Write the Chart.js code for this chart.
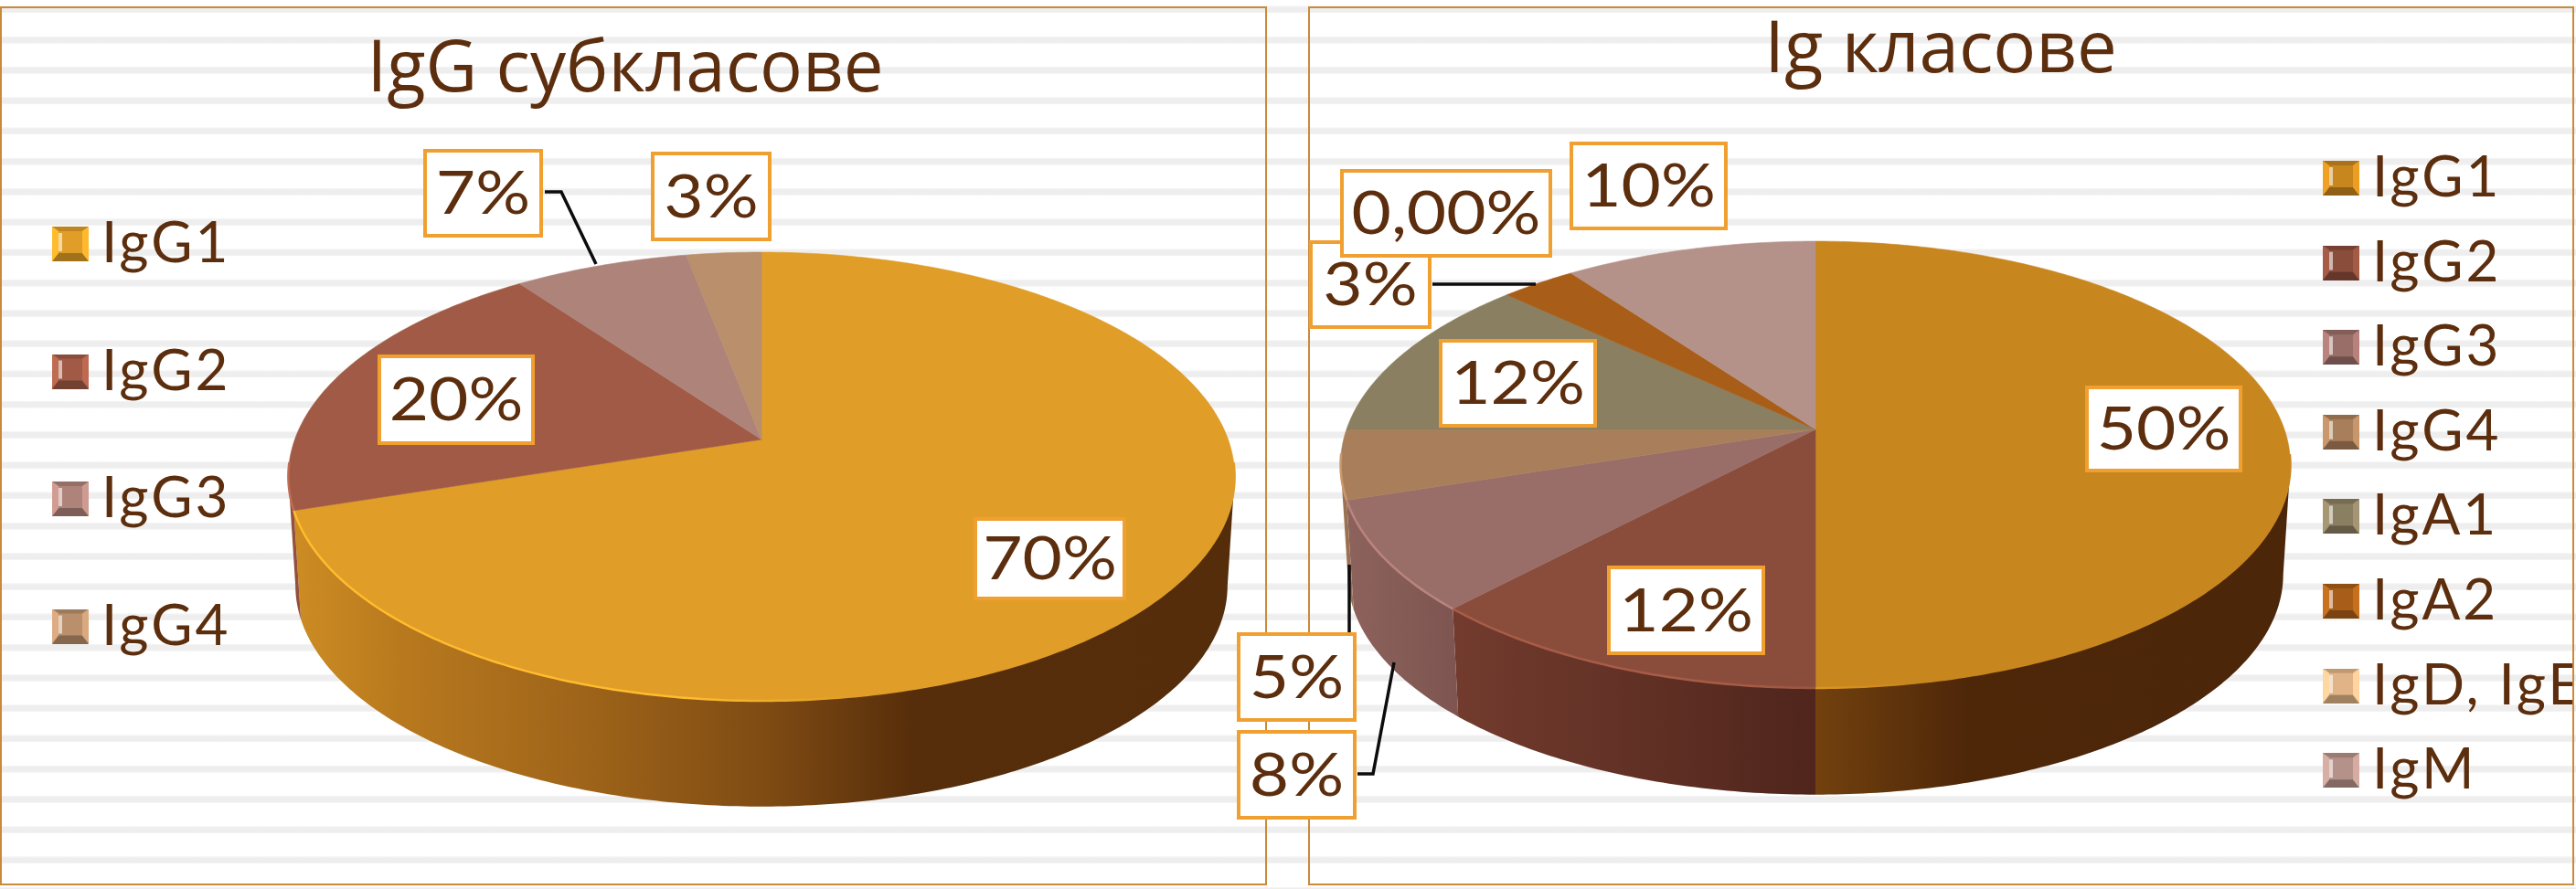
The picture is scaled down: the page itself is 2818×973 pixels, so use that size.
<!DOCTYPE html>
<html lang="bg">
<head>
<meta charset="utf-8">
<title>IgG субкласове / Ig класове</title>
<script src="https://cdn.jsdelivr.net/npm/chart.js@4/dist/chart.umd.min.js"></script>
<style>
  html, body { margin: 0; padding: 0; width: 2818px; height: 973px; overflow: hidden; background: #fff; }
  .stripes { position: absolute; left: 0; top: 0; width: 2818px; height: 973px;
    background: repeating-linear-gradient(180deg, #f8f8f8 6.5px, #eeeeee 8px, #eeeeee 13px, #f8f8f8 14.5px, #ffffff 14.5px, #ffffff 39.75px); }
  .panel { position: absolute; box-sizing: border-box; top: 7px; height: 962px; border: 2px solid #c98a3a; }
  canvas { position: absolute; left: 0; top: 0; }
</style>
</head>
<body>
<div class="stripes"></div>
<div class="panel" style="left:0;width:1386px"></div>
<div class="panel" style="left:1431px;width:1385px"></div>
<canvas id="subclasses" width="2818" height="973"></canvas>
<canvas id="classes" width="2814" height="973"></canvas>

<script>
// data
const subclassTitle = "IgG субкласове";
const subclassLabels = ["IgG1", "IgG2", "IgG3", "IgG4"];
const subclassValues = [70, 20, 7, 3];
const subclassColors = ["#e09d27", "#a05a45", "#ae837a", "#b98f6c"];

const classTitle = "Ig класове";
const classLabels = ["IgG1", "IgG2", "IgG3", "IgG4", "IgA1", "IgA2", "IgD, IgE", "IgM"];
const classValues = [50, 12, 8, 5, 12, 3, 0, 10];
const classColors = ["#c8861e", "#8b4d3b", "#9a6e68", "#a97f5b", "#8b7f61", "#a85e18", "#e0b486", "#b59289"];

const TEXT = "#5c2e0e";
const BOX = "#f0a030";

// hand placed data labels [left, top, right, bottom], one per slice
const subclassBoxes = [[1065, 566, 1232, 657], [413, 388, 585, 487], [463, 163, 594, 260], [712, 166, 844, 264]];
const subclassLeaders = [[[596, 210], [614, 210], [652, 289]]];
const classBoxes = [[2281, 422, 2453, 517], [1758, 619, 1931, 717], [1353, 799, 1484, 897], [1353, 692, 1484, 790],
  [1574, 371, 1747, 468], [1432, 263, 1566, 360], [1466, 185, 1698, 282], [1717, 155, 1890, 252]];
const classLeaders = [[[1567, 311], [1680, 311]], [[1476, 692], [1476, 618]], [[1485, 847], [1502, 847], [1525, 725]]];

function shade(hex, f, warm) {
  const n = parseInt(hex.slice(1), 16);
  const ch = (s, k) => Math.max(0, Math.min(255, Math.round(((n >> s) & 255) * k)));
  // the dark side of the wall turns redder: green and blue drop faster
  const k2 = warm ? Math.pow(f, 1.3) : f;
  return "rgb(" + ch(16, f) + "," + ch(8, k2) + "," + ch(0, k2) + ")";
}

// small bevelled legend swatch
function swatch(color) {
  const c = document.createElement("canvas");
  c.width = 40; c.height = 38;
  const g = c.getContext("2d");
  const band = (pts, fill) => {
    g.fillStyle = fill;
    g.beginPath();
    pts.forEach((p, i) => i ? g.lineTo(p[0], p[1]) : g.moveTo(p[0], p[1]));
    g.closePath();
    g.fill();
  };
  g.fillStyle = color;
  g.fillRect(0, 0, 40, 38);
  band([[0, 0], [40, 0], [33, 5], [7, 5]], shade(color, 0.85));
  band([[0, 38], [40, 38], [33, 29], [7, 29]], shade(color, 0.72));
  band([[0, 0], [7, 5], [7, 29], [0, 38]], shade(color, 1.2));
  band([[40, 0], [33, 5], [33, 29], [40, 38]], shade(color, 1.18));
  g.fillStyle = "rgba(255,255,255,0.6)";
  g.fillRect(7, 7, 4, 20);
  return c;
}

// horizontal shading of the pie wall, left side to right side
const wallStops = [[0, 0.92], [0.12, 0.82], [0.32, 0.7], [0.5, 0.57], [0.66, 0.39], [1, 0.38]];

// draws the chart's arcs as a tilted 3d pie, using the angles the library computed
const pie3d = {
  id: "pie3d",
  beforeDatasetDraw(chart) {
    const view = chart.config.options.view;
    const ctx = chart.ctx;
    const arcs = chart.getDatasetMeta(0).data;
    const project = (a, low) => {
      const u = Math.cos(a), v = Math.sin(a), w = 1 - view.k * v, s = low ? 0.985 : 1;
      return [view.cx + s * view.a * u / w, view.cy + (low ? view.h : 0) + s * view.b * v / w];
    };
    const sample = (from, to) => {
      const n = Math.max(2, Math.ceil((to - from) * 80));
      const out = [];
      for (let i = 0; i <= n; i++) out.push(from + (to - from) * i / n);
      return out;
    };
    const left = view.cx - view.a * 1.014, width = view.a * 2.028;
    // only the front of the wall shows: from one side extreme round to the other
    const frontFrom = Math.asin(view.k), frontTo = Math.PI - frontFrom;

    ctx.save();
    arcs.forEach((arc) => {
      const from = Math.max(arc.startAngle, frontFrom), to = Math.min(arc.endAngle, frontTo);
      if (to - from < 1e-4) return;
      const color = arc.options.backgroundColor;
      const angles = sample(from, to);
      const grad = ctx.createLinearGradient(left, 0, left + width, 0);
      wallStops.forEach(s => grad.addColorStop(s[0], shade(color, s[1], true)));
      ctx.fillStyle = grad;
      ctx.beginPath();
      angles.forEach((a, j) => { const p = project(a, false); j ? ctx.lineTo(p[0], p[1]) : ctx.moveTo(p[0], p[1]); });
      angles.slice().reverse().forEach(a => { const p = project(a, true); ctx.lineTo(p[0], p[1]); });
      ctx.closePath();
      ctx.fill();
    });
    arcs.forEach((arc) => {
      if (arc.endAngle - arc.startAngle < 1e-4) return;
      const color = arc.options.backgroundColor;
      const angles = sample(arc.startAngle, arc.endAngle);
      ctx.fillStyle = color;
      ctx.strokeStyle = color;
      ctx.lineWidth = 0.6;
      ctx.beginPath();
      ctx.moveTo(view.cx, view.cy);
      angles.forEach(a => { const p = project(a, false); ctx.lineTo(p[0], p[1]); });
      ctx.closePath();
      ctx.fill();
      ctx.stroke();
      // light rim on the front left edge
      const rim = ctx.createLinearGradient(left, 0, left + width, 0);
      rim.addColorStop(0.02, shade(color, 1.2));
      rim.addColorStop(0.42, shade(color, 1.2));
      rim.addColorStop(0.6, color);
      ctx.strokeStyle = rim;
      ctx.lineWidth = 2.5;
      ctx.beginPath();
      let on = false;
      angles.forEach(a => {
        if (Math.sin(a) < 0.1) { on = false; return; }
        const p = project(a, false);
        on ? ctx.lineTo(p[0], p[1]) : ctx.moveTo(p[0], p[1]);
        on = true;
      });
      ctx.stroke();
    });
    ctx.restore();
    return false;
  },
  afterDatasetsDraw(chart) {
    const view = chart.config.options.view;
    const ctx = chart.ctx;
    ctx.save();
    ctx.strokeStyle = "#0c0c0c";
    ctx.lineWidth = 3.5;
    view.leaders.forEach(line => {
      ctx.beginPath();
      line.forEach((p, i) => i ? ctx.lineTo(p[0], p[1]) : ctx.moveTo(p[0], p[1]));
      ctx.stroke();
    });
    ctx.font = "65px Lato";
    ctx.textAlign = "center";
    ctx.textBaseline = "middle";
    chart.data.datasets[0].data.forEach((value, i) => {
      const b = view.boxes[i];
      ctx.fillStyle = "#fff";
      ctx.strokeStyle = BOX;
      ctx.lineWidth = 4;
      ctx.fillRect(b[0] + 2, b[1] + 2, b[2] - b[0] - 4, b[3] - b[1] - 4);
      ctx.strokeRect(b[0] + 2, b[1] + 2, b[2] - b[0] - 4, b[3] - b[1] - 4);
      ctx.fillStyle = TEXT;
      // digits of the original face are wider than Lato
      ctx.save();
      ctx.translate((b[0] + b[2]) / 2, (b[1] + b[3]) / 2 + 2);
      ctx.scale(1.15, 1);
      ctx.fillText(value === 0 ? "0,00%" : value + "%", 0, 0);
      ctx.restore();
    });
    ctx.restore();
  },
  // title and legend sit at fixed spots like in the slide
  afterLayout(chart) {
    const view = chart.config.options.view;
    const t = chart.titleBlock, l = chart.legend;
    t.left = view.titleX - 600; t.right = view.titleX + 600;
    t.top = view.titleY; t.bottom = view.titleY + 90;
    const pad = l.options.labels.padding;
    l.left = view.legendX - pad; l.right = l.left + 400;
    l.top = view.legendY - pad - 31; l.bottom = l.top + 900;
    if (!l.spaced) {
      const draw = l.draw.bind(l);
      l.draw = () => {
        chart.ctx.letterSpacing = "3px";
        draw();
        chart.ctx.letterSpacing = "0px";
      };
      l.spaced = true;
    }
  }
};

function makeChart(id, title, labels, values, colors, view, rowGap) {
  return new Chart(document.getElementById(id), {
    type: "pie",
    plugins: [pie3d],
    data: { labels: labels, datasets: [{ data: values, backgroundColor: colors, borderWidth: 0 }] },
    options: {
      responsive: false,
      animation: false,
      devicePixelRatio: 1,
      events: [],
      view: view,
      plugins: {
        tooltip: { enabled: false },
        title: {
          display: true,
          text: title,
          color: TEXT,
          padding: 0,
          font: { family: "'Open Sans'", size: 78, weight: "400", lineHeight: 1.2 }
        },
        legend: {
          position: "left",
          align: "start",
          labels: {
            color: TEXT,
            font: { family: "Lato", size: 62, lineHeight: 1 },
            usePointStyle: true,
            pointStyleWidth: 6,
            padding: rowGap - 62,
            generateLabels(chart) {
              return Chart.overrides.pie.plugins.legend.labels.generateLabels(chart).map((item, i) => {
                item.pointStyle = swatch(colors[i]);
                return item;
              });
            }
          }
        }
      }
    }
  });
}

makeChart("subclasses", subclassTitle, subclassLabels, subclassValues, subclassColors, {
  cx: 833, cy: 481, a: 510.5, b: 238.8, k: 0.165, h: 120,
  boxes: subclassBoxes, leaders: subclassLeaders,
  titleX: 684, titleY: 31, legendX: 74, legendY: 267
}, 139.5);

makeChart("classes", classTitle, classLabels, classValues, classColors, {
  cx: 1986, cy: 470, a: 513, b: 238.4, k: 0.1575, h: 121,
  boxes: classBoxes, leaders: classLeaders,
  titleX: 2123, titleY: 10, legendX: 2558, legendY: 195
}, 92.6);
</script>
</body>
</html>
